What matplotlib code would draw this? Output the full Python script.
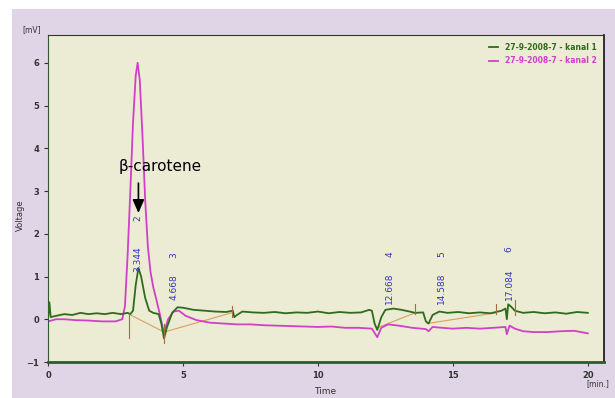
import matplotlib.pyplot as plt
from matplotlib.patches import Rectangle

# channel 1 (green) - time [min], voltage [mV]
t1 = [0.0, 0.05, 0.1, 0.3, 0.6, 0.9, 1.2, 1.5, 1.8, 2.1, 2.4, 2.7, 2.95, 3.05,
      3.15, 3.25, 3.35, 3.45, 3.6, 3.75, 3.9, 4.1, 4.2, 4.3, 4.4, 4.6, 4.8, 5.0,
      5.4, 5.8, 6.2, 6.6, 6.85, 6.9, 7.0, 7.2, 7.6, 8.0, 8.4, 8.8, 9.2, 9.6, 10.0,
      10.4, 10.8, 11.2, 11.6, 11.9, 12.0, 12.1, 12.2, 12.35, 12.5, 12.8, 13.1,
      13.4, 13.6, 13.9, 14.0, 14.1, 14.25, 14.5, 14.8, 15.2, 15.6, 16.0, 16.4,
      16.8, 16.95, 17.0, 17.05, 17.15, 17.3, 17.6, 18.0, 18.4, 18.8, 19.2, 19.6, 20.0]
v1 = [0.0, 0.4, 0.05, 0.08, 0.12, 0.10, 0.15, 0.12, 0.14, 0.12, 0.15, 0.12, 0.15, 0.12,
      0.2, 0.8, 1.2, 1.0, 0.5, 0.2, 0.15, 0.12, -0.1, -0.45, -0.2, 0.15, 0.28, 0.27,
      0.22, 0.2, 0.18, 0.17, 0.2, 0.05, 0.1, 0.18, 0.16, 0.15, 0.17, 0.14, 0.16, 0.15, 0.18,
      0.14, 0.17, 0.15, 0.16, 0.22, 0.2, -0.1, -0.25, 0.05, 0.22, 0.25, 0.22,
      0.18, 0.15, 0.16, -0.05, -0.1, 0.1, 0.18, 0.15, 0.17, 0.14, 0.16, 0.14,
      0.2, 0.25, 0.0, 0.35, 0.3, 0.2, 0.15, 0.17, 0.14, 0.16, 0.13, 0.17, 0.15]

# channel 2 (magenta)
t2 = [0.0, 0.3, 0.6, 1.0, 1.5, 2.0, 2.5, 2.75, 2.85, 2.95, 3.05, 3.15, 3.25, 3.32,
      3.4, 3.5, 3.6, 3.7, 3.8, 3.9, 4.0, 4.15, 4.25, 4.3, 4.45, 4.65, 4.85, 5.1,
      5.5, 6.0, 6.5, 7.0, 7.5, 8.0, 8.5, 9.0, 9.5, 10.0, 10.5, 11.0, 11.5, 12.0,
      12.2, 12.35, 12.6, 13.0, 13.5, 14.0, 14.1, 14.25, 14.6, 15.0, 15.5, 16.0,
      16.5, 16.95, 17.0, 17.1, 17.3, 17.6, 18.0, 18.5, 19.0, 19.5, 20.0]
v2 = [-0.05, 0.0, 0.0, -0.02, -0.03, -0.05, -0.05, 0.0, 0.3, 1.5, 3.0, 4.6, 5.7, 6.0,
      5.6, 4.3, 2.8, 1.7, 1.1, 0.75, 0.5, 0.1, -0.2, -0.3, 0.0, 0.18, 0.2, 0.08,
      -0.02, -0.08, -0.1, -0.12, -0.12, -0.14, -0.15, -0.16, -0.17, -0.18, -0.17, -0.2, -0.2, -0.22,
      -0.42, -0.2, -0.12, -0.15, -0.2, -0.23, -0.28, -0.18, -0.2, -0.22, -0.2, -0.22,
      -0.2, -0.18, -0.35, -0.15, -0.22, -0.28, -0.3, -0.3, -0.28, -0.27, -0.33]

# integration baselines (start, end) pairs
base_t = [(3.0, 4.3), (4.3, 6.8), (12.2, 13.6), (14.05, 16.6)]
base_v = [(0.12, -0.3), (-0.3, 0.15), (-0.2, 0.15), (-0.1, 0.15)]
# vertical marks (time, low, high)
mark_t = [3.0, 4.3, 6.8, 13.6, 16.6, 17.3]
mark_lo = [-0.45, -0.55, 0.05, 0.12, 0.12, 0.1]
mark_hi = [0.15, -0.1, 0.3, 0.35, 0.35, 0.45]

# peak labels
peak_t = [3.344, 4.668, 12.668, 14.588, 17.084]
peak_id = ['2', '3', '4', '5', '6']
peak_num_y = [1.1, 0.45, 0.35, 0.35, 0.45]
peak_id_y = [2.37, 1.5, 1.52, 1.52, 1.64]

fig = plt.figure(figsize=(6.15, 3.98), dpi=100, facecolor='white')
# lavender panel behind the plot
fig.patches.append(Rectangle((12 / 615, 0), 1, 1 - 9 / 398, transform=fig.transFigure,
                             facecolor='#e0d5e6', edgecolor='none', zorder=-10))

ax = fig.add_axes([48 / 615, 1 - 362 / 398, 556 / 615, 327 / 398])
ax.set_facecolor('#ecebd4')

ax.plot(t1, v1, color='#2f6b1c', lw=1.3, label='27-9-2008-7 - kanal 1', zorder=3)
ax.plot(t2, v2, color='#d040c8', lw=1.3, label='27-9-2008-7 - kanal 2', zorder=2)

for (ta, tb), (va, vb) in zip(base_t, base_v):
    ax.plot([ta, tb], [va, vb], color='#d9a060', lw=0.8, zorder=1)
for tm, lo, hi in zip(mark_t, mark_lo, mark_hi):
    ax.plot([tm, tm], [lo, hi], color='#a07040', lw=0.8, zorder=4)

for tp, pid, ny, iy in zip(peak_t, peak_id, peak_num_y, peak_id_y):
    ax.text(tp, ny, '%.3f' % tp, rotation=90, ha='center', va='bottom',
            fontsize=6.5, color='#3535c0', zorder=5)
    ax.text(tp, iy, pid, rotation=90, ha='center', va='center',
            fontsize=6.5, color='#3535c0', zorder=5)

ax.annotate('', xy=(3.35, 2.42), xytext=(3.35, 3.25),
            arrowprops=dict(arrowstyle='-|>,head_width=0.35,head_length=0.8',
                            color='black', lw=1.2))
ax.text(4.15, 3.58, u'\u03b2-carotene', ha='center', va='center', fontsize=11,
        family=['Liberation Sans Narrow', 'DejaVu Sans'])

ax.set_xlim(0, 20.6)
ax.set_ylim(-1, 6.65)
ax.set_xticks([0, 5, 10, 15, 20])
ax.set_yticks([-1, 0, 1, 2, 3, 4, 5, 6])
ax.tick_params(labelsize=6, colors='#333333', length=3, width=0.8)
for lbl in ax.get_xticklabels() + ax.get_yticklabels():
    lbl.set_fontweight('bold')

ax.spines['left'].set_color('#2e5a2e')
ax.spines['bottom'].set_color('#2e5a2e')
ax.spines['bottom'].set_linewidth(2)
ax.spines['top'].set_color('#333333')
ax.spines['right'].set_color('#111111')
ax.spines['right'].set_linewidth(1.2)

leg = ax.legend(loc='upper right', fontsize=5.5, frameon=False, handlelength=1.2,
                labelcolor='linecolor', borderaxespad=0.6, labelspacing=0.6)
for txt in leg.get_texts():
    txt.set_fontweight('bold')

fig.text(32 / 615, 1 - 30 / 398, '[mV]', fontsize=5.5, ha='center', va='center',
         color='#333333')
fig.text(20 / 615, 1 - 215 / 398, 'Voltage', fontsize=6, rotation=90,
         ha='center', va='center', color='#333333')
fig.text(325 / 615, 1 - 391 / 398, 'Time', fontsize=6.5, ha='center', va='center',
         color='#333333')
fig.text(598 / 615, 1 - 384 / 398, '[min.]', fontsize=5.5, ha='center', va='center',
         color='#333333')

fig.savefig('out.png', dpi=100, facecolor=fig.get_facecolor())
